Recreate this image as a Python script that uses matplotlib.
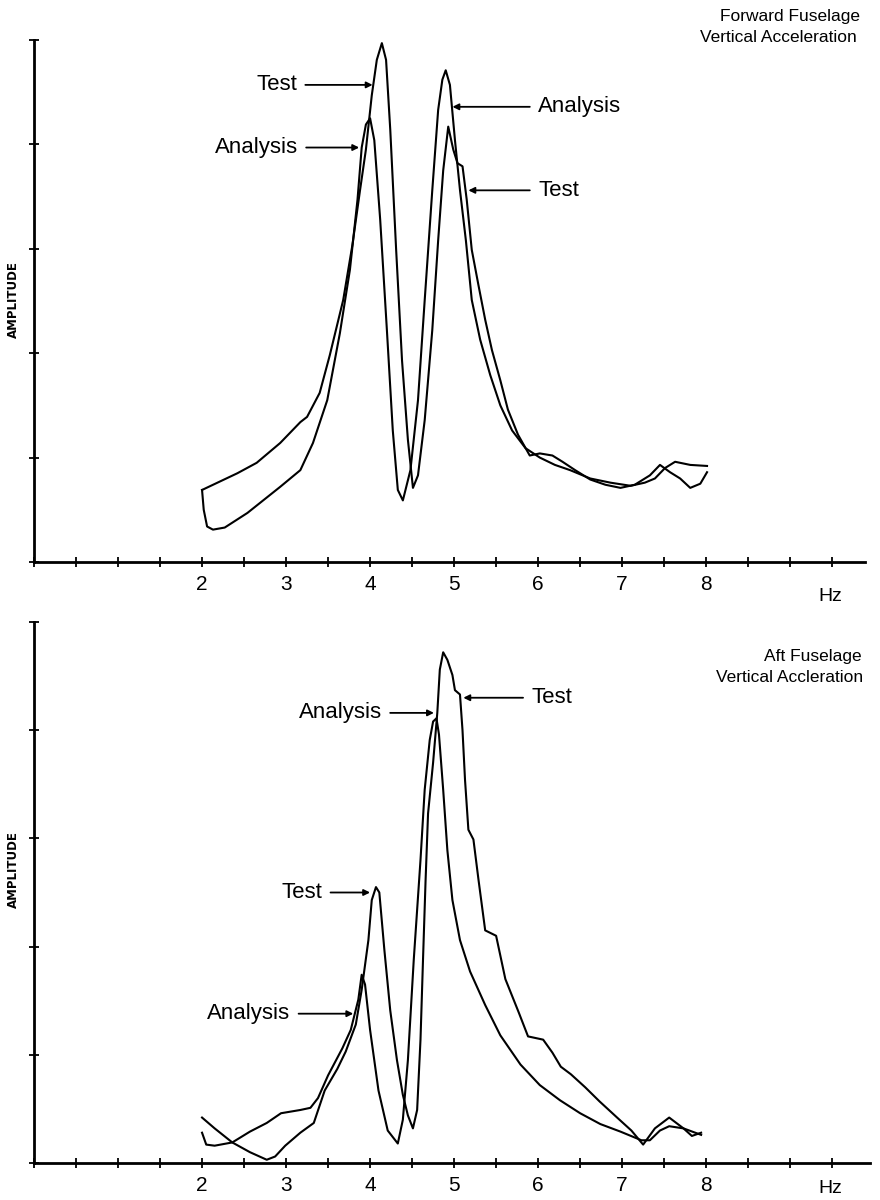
import numpy as np
import matplotlib
matplotlib.use("Agg")
import matplotlib.pyplot as plt

plt.rcParams['font.family'] = ['Liberation Sans', 'DejaVu Sans']

# ---- data (Hz, amplitude in y-tick units) ----
fwd_test_hz = [2.00, 2.21, 2.42, 2.65, 2.93, 3.17, 3.25, 3.40, 3.52, 3.68, 3.79, 3.88, 3.95,
               4.02, 4.08, 4.14, 4.19, 4.24, 4.31, 4.38, 4.45, 4.51, 4.57, 4.65, 4.74, 4.81,
               4.87, 4.93, 4.99, 5.04, 5.10, 5.15, 5.21, 5.29, 5.37, 5.45, 5.55, 5.64, 5.76,
               5.90, 6.02, 6.17, 6.29, 6.44, 6.62, 6.80, 6.98, 7.15, 7.33, 7.45, 7.57, 7.69,
               7.81, 7.93, 8.01]
fwd_test_amp = [0.69, 0.77, 0.85, 0.95, 1.14, 1.34, 1.39, 1.62, 1.98, 2.51, 3.04, 3.56, 3.95,
                4.47, 4.81, 4.97, 4.81, 4.14, 2.99, 1.93, 1.17, 0.71, 0.83, 1.36, 2.22, 3.08,
                3.75, 4.17, 3.95, 3.82, 3.79, 3.47, 2.99, 2.65, 2.32, 2.03, 1.74, 1.46, 1.22,
                1.02, 1.04, 1.02, 0.96, 0.88, 0.79, 0.74, 0.71, 0.74, 0.83, 0.93, 0.86, 0.80,
                0.71, 0.75, 0.86]

fwd_ana_hz = [2.00, 2.02, 2.06, 2.13, 2.27, 2.54, 2.93, 3.17, 3.32, 3.49, 3.64, 3.76, 3.85,
              3.90, 3.95, 4.00, 4.05, 4.12, 4.20, 4.27, 4.33, 4.39, 4.48, 4.57, 4.65, 4.74,
              4.81, 4.86, 4.90, 4.95, 5.01, 5.07, 5.14, 5.21, 5.31, 5.43, 5.55, 5.69, 5.85,
              6.02, 6.20, 6.38, 6.62, 6.86, 7.10, 7.27, 7.39, 7.51, 7.63, 7.81, 8.01]
fwd_ana_amp = [0.69, 0.50, 0.34, 0.31, 0.33, 0.47, 0.72, 0.88, 1.14, 1.55, 2.19, 2.80, 3.47,
               3.97, 4.19, 4.25, 4.04, 3.28, 2.22, 1.26, 0.69, 0.59, 0.88, 1.55, 2.51, 3.56,
               4.33, 4.62, 4.71, 4.57, 4.04, 3.56, 3.08, 2.51, 2.13, 1.79, 1.50, 1.26, 1.09,
               1.00, 0.93, 0.88, 0.80, 0.76, 0.73, 0.76, 0.80, 0.90, 0.96, 0.93, 0.92]

aft_test_hz = [2.00, 2.15, 2.36, 2.57, 2.77, 2.87, 2.99, 3.17, 3.33, 3.46, 3.61, 3.71, 3.83,
               3.90, 3.98, 4.02, 4.07, 4.11, 4.17, 4.24, 4.32, 4.39, 4.45, 4.51, 4.56, 4.60,
               4.63, 4.66, 4.69, 4.75, 4.80, 4.83, 4.87, 4.92, 4.98, 5.01, 5.07, 5.10, 5.13,
               5.17, 5.23, 5.29, 5.37, 5.50, 5.61, 5.77, 5.88, 6.06, 6.17, 6.27, 6.39, 6.56,
               6.73, 6.94, 7.11, 7.25, 7.39, 7.56, 7.73, 7.83, 7.94]
aft_test_amp = [0.42, 0.32, 0.19, 0.10, 0.03, 0.06, 0.16, 0.28, 0.37, 0.67, 0.87, 1.03, 1.28,
                1.60, 2.06, 2.43, 2.55, 2.50, 1.97, 1.41, 0.95, 0.63, 0.44, 0.32, 0.49, 1.14,
                1.88, 2.60, 3.23, 3.70, 4.16, 4.56, 4.72, 4.65, 4.51, 4.37, 4.33, 4.00, 3.54,
                3.08, 2.99, 2.62, 2.15, 2.10, 1.70, 1.39, 1.17, 1.14, 1.02, 0.89, 0.82, 0.70,
                0.57, 0.42, 0.30, 0.17, 0.32, 0.42, 0.32, 0.25, 0.28]

aft_ana_hz = [2.00, 2.05, 2.15, 2.36, 2.57, 2.77, 2.94, 3.17, 3.29, 3.38, 3.50, 3.67, 3.77,
              3.86, 3.90, 3.94, 4.00, 4.10, 4.21, 4.33, 4.39, 4.45, 4.52, 4.60, 4.65, 4.71,
              4.75, 4.79, 4.82, 4.87, 4.92, 4.98, 5.07, 5.19, 5.37, 5.55, 5.79, 6.02, 6.26,
              6.50, 6.74, 6.98, 7.23, 7.33, 7.45, 7.56, 7.73, 7.94]
aft_ana_amp = [0.28, 0.17, 0.16, 0.19, 0.29, 0.37, 0.46, 0.49, 0.51, 0.60, 0.81, 1.06, 1.23,
               1.51, 1.74, 1.65, 1.23, 0.67, 0.30, 0.18, 0.40, 0.95, 1.88, 2.80, 3.45, 3.91,
               4.08, 4.11, 3.96, 3.45, 2.89, 2.43, 2.06, 1.77, 1.46, 1.18, 0.91, 0.72, 0.58,
               0.46, 0.36, 0.29, 0.21, 0.21, 0.30, 0.34, 0.32, 0.26]

tick_hz = [2, 3, 4, 5, 6, 7, 8]
tick_labels = ["2", "3", "4", "5", "6", "7", "8"]

fig = plt.figure(figsize=(8.8, 12), dpi=100)
ax1 = fig.add_axes([34 / 880, 638 / 1200, 831 / 880, 522 / 1200])
ax2 = fig.add_axes([34 / 880, 37 / 1200, 836 / 880, 541 / 1200])


def style_axis(ax, xmax, hz_y):
    ax.set_xlim(0, xmax)
    ax.set_ylim(0, 5)
    for s in ["top", "right"]:
        ax.spines[s].set_visible(False)
    for s in ["left", "bottom"]:
        ax.spines[s].set_linewidth(2)
    ax.set_xticks(tick_hz)
    ax.set_xticklabels(tick_labels, fontsize=15)
    ax.set_xticks(np.arange(0, 10, 0.5), minor=True)
    ax.set_yticks(range(6))
    ax.set_yticklabels([])
    ax.tick_params(axis="both", which="both", direction="inout", length=7, width=1.3)
    ax.tick_params(axis="x", which="major", pad=6)
    ax.text(9.48, hz_y, "Hz", fontsize=14, ha="center", va="center", clip_on=False)


def arrow(ax, text, xy, xytext, ha):
    ax.annotate(text, xy=xy, xytext=xytext, fontsize=16, ha=ha, va="center",
                arrowprops=dict(arrowstyle="-|>", color="black", lw=1.3,
                                mutation_scale=9, shrinkA=4, shrinkB=0))


# top panel
style_axis(ax1, 9.89, -0.33)
ax1.plot(fwd_test_hz, fwd_test_amp, color="black", lw=1.5, clip_on=False)
ax1.plot(fwd_ana_hz, fwd_ana_amp, color="black", lw=1.5, clip_on=False)
arrow(ax1, "Test", (4.03, 4.57), (3.13, 4.57), "right")
arrow(ax1, "Analysis", (3.87, 3.97), (3.14, 3.97), "right")
arrow(ax1, "Analysis", (4.98, 4.36), (6.0, 4.36), "left")
arrow(ax1, "Test", (5.17, 3.56), (6.0, 3.56), "left")

# bottom panel
style_axis(ax2, 9.95, -0.24)
ax2.plot(aft_test_hz, aft_test_amp, color="black", lw=1.5, clip_on=False)
ax2.plot(aft_ana_hz, aft_ana_amp, color="black", lw=1.5, clip_on=False)
arrow(ax2, "Analysis", (4.76, 4.16), (4.14, 4.16), "right")
arrow(ax2, "Test", (5.11, 4.30), (5.92, 4.30), "left")
arrow(ax2, "Test", (4.0, 2.50), (3.43, 2.50), "right")
arrow(ax2, "Analysis", (3.80, 1.38), (3.05, 1.38), "right")

# titles
fig.text(790 / 880, 1 - 17 / 1200, "Forward Fuselage", fontsize=12.5, ha="center", va="center")
fig.text(778 / 880, 1 - 37 / 1200, "Vertical Acceleration", fontsize=12.5, ha="center", va="center")
fig.text(813 / 880, 1 - 657 / 1200, "Aft Fuselage", fontsize=12.5, ha="center", va="center")
fig.text(790 / 880, 1 - 677 / 1200, "Vertical Accleration", fontsize=12.5, ha="center", va="center")

# y-axis labels
fig.text(13 / 880, 1 - 300 / 1200, "AMPLITUDE", fontsize=8.5, fontweight="bold",
         rotation=90, ha="center", va="center", family="DejaVu Sans")
fig.text(13 / 880, 1 - 870 / 1200, "AMPLITUDE", fontsize=8.5, fontweight="bold",
         rotation=90, ha="center", va="center", family="DejaVu Sans")

fig.savefig("out.png", dpi=100, facecolor="white")
